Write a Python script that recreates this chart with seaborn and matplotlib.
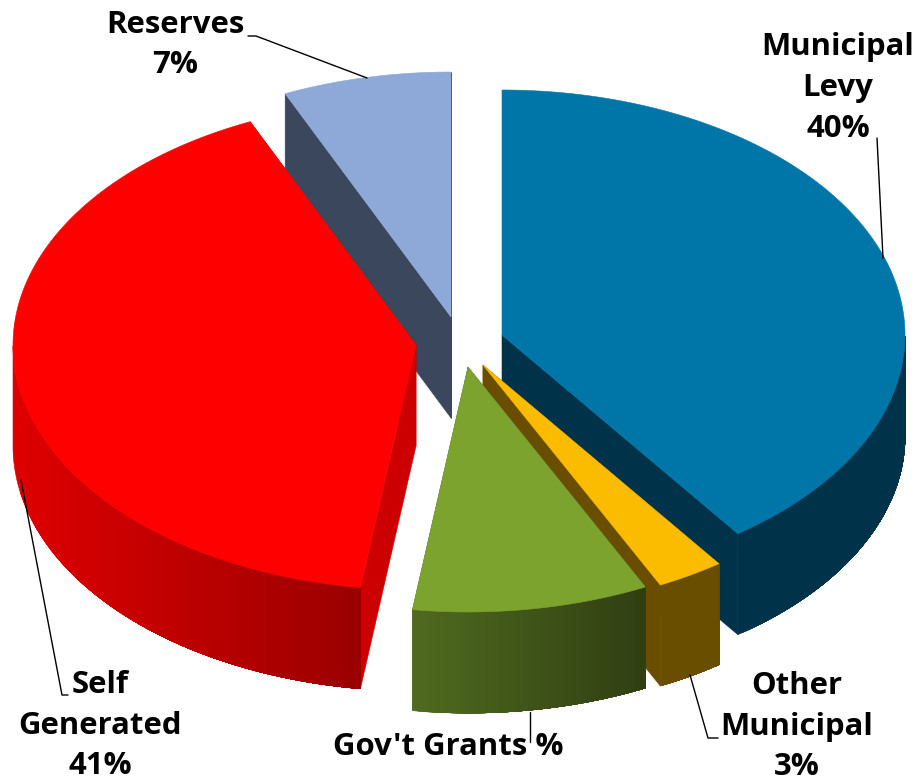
import numpy as np
import matplotlib
matplotlib.use('Agg')
import matplotlib.pyplot as plt
import seaborn as sns

# shares, clockwise from 12 o'clock
slices = ['Municipal Levy', 'Other Municipal', "Gov't Grants", 'Self Generated', 'Reserves']
shares = [40.05, 2.7, 9.45, 41.05, 6.75]
label_lines = [['Municipal', 'Levy', '40%'], ['Other', 'Municipal', '3%'], ["Gov't Grants %"],
               ['Self', 'Generated', '41%'], ['Reserves', '7%']]

top_colors = ['#0076A8', '#FBBC00', '#7CA32D', '#FF0000', '#8EA8D8']
side_colors = ['#003349', '#6A4E00', '#4F6A1F', '#CC0000', '#3A475C']
wall_left = ['#003349', '#6A4E00', '#4F6A1F', '#DE0000', '#3A475C']
wall_right = ['#003349', '#6A4E00', '#303F12', '#9A0000', '#3A475C']

# apex of every exploded slice, in pixels
apex = [(502, 335), (483, 365), (468, 367), (416, 345), (451, 317)]
label_pos = [(838, 47), (797, 686), (448, 747), (100, 685), (175, 25)]
leaders = [[(877, 138), (883, 258)],
           [(690, 675), (708, 738), (718, 738)],
           [(530, 712), (530, 742)],
           [(68, 695), (62, 695), (21, 480)],
           [(248, 36), (256, 36), (367, 78)]]
rx, ry, depth = 403, 245, 101
line_h = [41, 40.5, 0, 40.5, 40]

sns.set_theme(style='white')
plt.rcParams['font.family'] = ['Open Sans', 'DejaVu Sans']

fig = plt.figure(figsize=(9.23, 7.82), dpi=100)
ax = fig.add_axes([0, 0, 1, 1])
ax.set_xlim(0, 923)
ax.set_ylim(782, 0)
ax.axis('off')

edges = np.concatenate([[0], np.cumsum(shares)]) / np.sum(shares) * 2 * np.pi


def arc_xy(c, a):
    return c[0] + rx * np.sin(a), c[1] - ry * np.cos(a)


def fill(x, y, color, z):
    ax.fill(x, y, facecolor=color, edgecolor=color, linewidth=0.4, zorder=z)


# back to front: blue, reserves, red, orange, green
for z, i in enumerate([0, 4, 3, 1, 2]):
    c = apex[i]
    a0, a1 = edges[i], edges[i + 1]
    t = np.linspace(a0, a1, 400)
    x, y = arc_xy(c, t)

    # flat cut faces of the slice
    for a in (a0, a1):
        ex, ey = arc_xy(c, a)
        fill([c[0], ex, ex, c[0]], [c[1], ey, ey + depth, c[1] + depth], side_colors[i], z * 10)

    # rim: only the part that faces the viewer, painted left to right so no seams show
    front = np.cos(t) < 0.0
    if front.any():
        order = np.argsort(x[front])
        xf, yf = x[front][order], y[front][order]
        pal = sns.blend_palette([wall_left[i], wall_right[i]], 48)
        cuts = np.searchsorted(xf, np.linspace(xf[0], xf[-1], 48, endpoint=False))
        for col, k in zip(pal, cuts):
            xs, ys = xf[k:], yf[k:]
            fill(np.r_[xs, xs[::-1]], np.r_[ys, ys[::-1] + depth], col, z * 10 + 1)

    # top face
    fill(np.r_[c[0], x], np.r_[c[1], y], top_colors[i], z * 10 + 2)

for pts in leaders:
    ax.plot(*zip(*pts), color='black', lw=1, zorder=80)

for (lx, ly), lines, h in zip(label_pos, label_lines, line_h):
    for n, s in enumerate(lines):
        ax.text(lx, ly + n * h, s, ha='center', va='center', fontsize=22.4,
                fontweight='bold', color='black', zorder=90)

fig.savefig('out.png', dpi=100, facecolor='white')
